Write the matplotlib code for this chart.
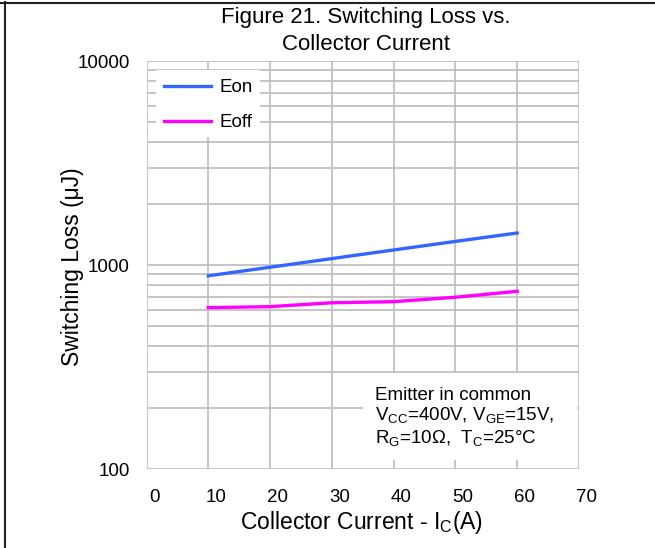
import numpy as np
import matplotlib.pyplot as plt
import matplotlib.transforms as mtransforms
from matplotlib.patches import Rectangle
from matplotlib.lines import Line2D
from matplotlib.ticker import FixedLocator, NullFormatter

plt.rcParams['font.family'] = ['Liberation Sans', 'DejaVu Sans']

# collector current (A) and switching losses (uJ)
ic = [10, 20, 30, 40, 50, 60]
eon = [885, 975, 1075, 1185, 1305, 1435]
eoff = [618, 625, 653, 661, 695, 743]

x_ticks = [0, 10, 20, 30, 40, 50, 60, 70]
y_ticks = [100, 1000, 10000]

W, H = 655, 548
fig = plt.figure(figsize=(W / 100, H / 100), dpi=100)


def px(x, y):
    # pixel position (from top-left) -> figure fraction
    return x / W, 1 - y / H


ax = fig.add_axes([146.5 / W, 1 - 469 / H, 432.5 / W, 408 / H])

ax.plot(ic, eon, color='#3366ff', lw=2.4, label='Eon', zorder=3)
ax.plot(ic, eoff, color='#ff00ff', lw=2.4, label='Eoff', zorder=3)

ax.set_yscale('log')
ax.set_xlim(0, 70)
ax.set_ylim(100, 10000)
ax.set_xticks(x_ticks)
ax.set_yticks(y_ticks)
ax.set_yticklabels([str(v) for v in y_ticks])
minor = [m * d for d in (100, 1000) for m in range(2, 10)]
ax.yaxis.set_minor_locator(FixedLocator(minor))
ax.yaxis.set_minor_formatter(NullFormatter())

ax.grid(True, which='both', color='#c0c0c0', lw=1.3)
ax.set_axisbelow(True)
for s in ax.spines.values():
    s.set_visible(False)
ax.tick_params(which='both', length=0, labelsize=13.5, colors='black')
ax.tick_params(axis='x', pad=14.5)
ax.tick_params(axis='y', pad=12)

# x tick labels sit a little right of their gridlines
offset = mtransforms.ScaledTranslation(7.5 / 100, 0, fig.dpi_scale_trans)
for lbl in ax.get_xticklabels():
    lbl.set_transform(lbl.get_transform() + offset)

fig.text(*px(362, 523), 'Collector Current - I$_\\mathregular{C}$(A)', fontsize=16.5,
         ha='center', va='center')
fig.text(*px(72, 267), 'Switching Loss (μJ)', fontsize=16.5, rotation=90,
         ha='center', va='center')

fig.text(*px(366, 18), 'Figure 21. Switching Loss vs.', ha='center', va='center', fontsize=16)
fig.text(*px(366, 44), 'Collector Current', ha='center', va='center', fontsize=16)

# white boxes behind legend and note
x0, y0 = px(156, 137)
x1, y1 = px(260, 70)
ax.add_patch(Rectangle((x0, y0), x1 - x0, y1 - y0, transform=fig.transFigure,
                       facecolor='white', edgecolor='none', zorder=1.5))
x0, y0 = px(363, 460)
x1, y1 = px(577, 373)
ax.add_patch(Rectangle((x0, y0), x1 - x0, y1 - y0, transform=fig.transFigure,
                       facecolor='white', edgecolor='none', zorder=1.5))

ax.legend(loc='upper left', bbox_to_anchor=px(164, 79), bbox_transform=fig.transFigure,
          frameon=False, fontsize=13.5, handlelength=2.5, handletextpad=0.48,
          labelspacing=0.96, borderpad=0, borderaxespad=0)

fig.text(*px(375, 418), 'Emitter in common\n'
         'V$_\\mathregular{CC}$=400V, V$_\\mathregular{GE}$=15V,\n'
         'R$_\\mathregular{G}$=10Ω,  T$_\\mathregular{C}$=25°C',
         fontsize=13.5, va='center', ha='left', linespacing=1.15)

# page border, top and left only
fig.add_artist(Line2D([0, 1], [1 - 3 / H, 1 - 3 / H], transform=fig.transFigure,
                      color='#222222', lw=1.5))
fig.add_artist(Line2D([5 / W, 5 / W], [0, 1 - 2 / H], transform=fig.transFigure,
                      color='#222222', lw=1.5))

fig.savefig('out.png', dpi=100)
